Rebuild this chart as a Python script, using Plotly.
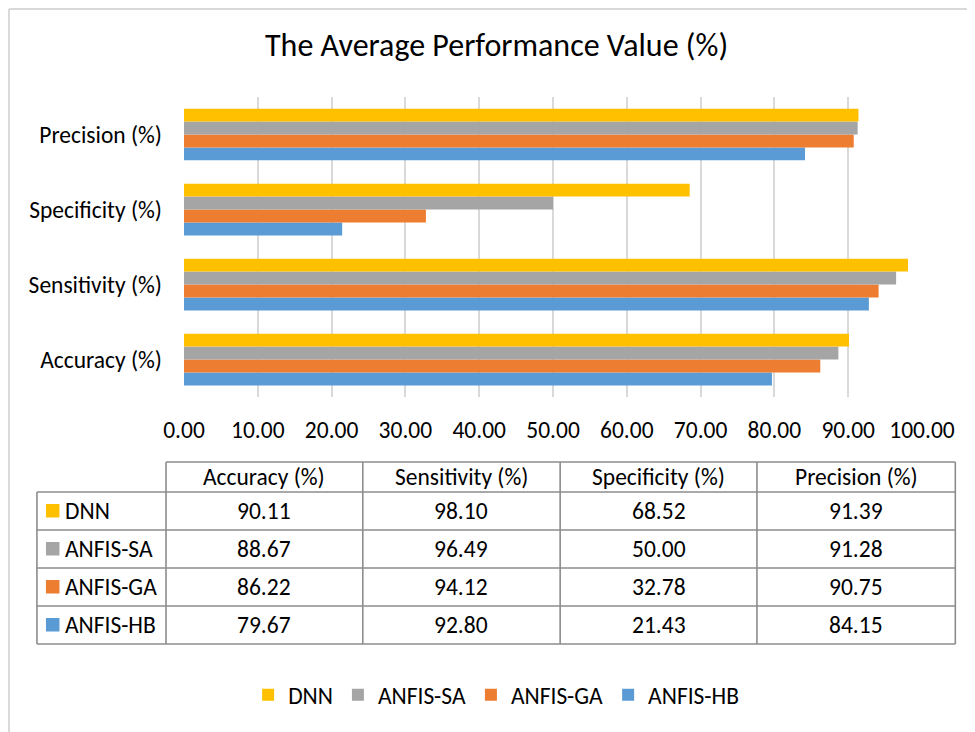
import plotly.graph_objects as go

# ---- data ----
metrics = ["Accuracy (%)", "Sensitivity (%)", "Specificity (%)", "Precision (%)"]
models = ["DNN", "ANFIS-SA", "ANFIS-GA", "ANFIS-HB"]
dnn = [90.11, 98.10, 68.52, 91.39]
anfis_sa = [88.67, 96.49, 50.00, 91.28]
anfis_ga = [86.22, 94.12, 32.78, 90.75]
anfis_hb = [79.67, 92.80, 21.43, 84.15]
x_ticks = [0, 10, 20, 30, 40, 50, 60, 70, 80, 90, 100]
title_text = "The Average Performance Value (%)"

series = {"DNN": dnn, "ANFIS-SA": anfis_sa, "ANFIS-GA": anfis_ga, "ANFIS-HB": anfis_hb}
colors = {"DNN": "#FFC000", "ANFIS-SA": "#A5A5A5", "ANFIS-GA": "#ED7D31", "ANFIS-HB": "#5B9BD5"}

FONT = "Carlito, Calibri, Lato, sans-serif"
OFF = 8  # page body margin
W, H = 967, 724
# plot area in page pixels: x 184..921.7, y 97..397
L = 184 - OFF
T = 97 - OFF
R = W - (921.7 - OFF)
B = H - (397 - OFF)
PW = W - L - R
PH = H - T - B


def px(x):
    """page pixel x -> paper"""
    return (x - OFF - L) / PW


def py(y):
    """page pixel y -> paper"""
    return (H - B - (y - OFF)) / PH


fig = go.Figure()
# add bottom-most first so DNN ends up on top of each group
for name in reversed(models):
    fig.add_trace(go.Bar(
        y=metrics, x=series[name], name=name, orientation="h",
        marker=dict(color=colors[name], line=dict(width=0)),
    ))

shapes = []
annotations = []

# outer chart frame (top & left visible)
shapes.append(dict(type="line", xref="paper", yref="paper", x0=px(9), x1=px(990), y0=py(9), y1=py(9),
                   line=dict(color="#d9d9d9", width=2)))
shapes.append(dict(type="line", xref="paper", yref="paper", x0=px(9), x1=px(9), y0=py(9), y1=py(740),
                   line=dict(color="#d9d9d9", width=2)))

# data table
col_edges = [166, 362.7, 560, 756.7, 955]
row_edges = [462, 492, 530, 568, 606, 644]
label_left = 37
tcol = "#8c8c8c"
tw = 1.6
shapes.append(dict(type="line", xref="paper", yref="paper", x0=px(col_edges[0]), x1=px(col_edges[-1]),
                   y0=py(row_edges[0]), y1=py(row_edges[0]), line=dict(color=tcol, width=tw)))
for ry in row_edges[1:]:
    shapes.append(dict(type="line", xref="paper", yref="paper", x0=px(label_left), x1=px(col_edges[-1]),
                       y0=py(ry), y1=py(ry), line=dict(color=tcol, width=tw)))
shapes.append(dict(type="line", xref="paper", yref="paper", x0=px(label_left), x1=px(label_left),
                   y0=py(row_edges[1]), y1=py(row_edges[-1]), line=dict(color=tcol, width=tw)))
for cx in col_edges:
    shapes.append(dict(type="line", xref="paper", yref="paper", x0=px(cx), x1=px(cx),
                       y0=py(row_edges[0]), y1=py(row_edges[-1]), line=dict(color=tcol, width=tw)))

TFS = 23.5
for j, m in enumerate(metrics):
    cxm = (col_edges[j] + col_edges[j + 1]) / 2
    cym = (row_edges[0] + row_edges[1]) / 2
    annotations.append(dict(xref="paper", yref="paper", x=px(cxm), y=py(cym), text=m, showarrow=False,
                            xanchor="center", yanchor="middle", font=dict(size=TFS, color="#000", family=FONT)))
for i, name in enumerate(models):
    cym = (row_edges[i + 1] + row_edges[i + 2]) / 2
    shapes.append(dict(type="rect", xref="paper", yref="paper", x0=px(46), x1=px(59.5),
                       y0=py(cym - 7), y1=py(cym + 6.5), fillcolor=colors[name], line=dict(width=0)))
    annotations.append(dict(xref="paper", yref="paper", x=px(63), y=py(cym), text=name, showarrow=False,
                            xanchor="left", yanchor="middle", font=dict(size=TFS, color="#000", family=FONT)))
    for j, v in enumerate(series[name]):
        cxm = (col_edges[j] + col_edges[j + 1]) / 2
        annotations.append(dict(xref="paper", yref="paper", x=px(cxm), y=py(cym), text=f"{v:.2f}",
                                showarrow=False, xanchor="center", yanchor="middle",
                                font=dict(size=TFS, color="#000", family=FONT)))

annotations.append(dict(xref="paper", yref="paper", x=px(496), y=py(45), text=title_text, showarrow=False,
                        xanchor="center", yanchor="middle", font=dict(size=32, color="#000", family=FONT)))

fig.update_layout(
    width=W, height=H,
    margin=dict(l=L, r=R, t=T, b=B, autoexpand=False),
    paper_bgcolor="white", plot_bgcolor="white",
    barmode="group", bargap=0.31, bargroupgap=0,
    font=dict(family=FONT, size=TFS, color="#000"),
    shapes=shapes, annotations=annotations,
    legend=dict(orientation="h", traceorder="reversed", x=px(496), xanchor="center",
                y=py(695), yanchor="middle", font=dict(size=TFS, family=FONT, color="#000"),
                bgcolor="rgba(0,0,0,0)"),
    xaxis=dict(range=[0, 100], tickvals=x_ticks, tickformat=".2f", showgrid=True, gridcolor="#d9d9d9",
               gridwidth=2, zeroline=False, showline=False, ticks="", ticklabelstandoff=16,
               tickfont=dict(size=TFS, family=FONT, color="#000"), fixedrange=True),
    yaxis=dict(categoryorder="array", categoryarray=metrics, showgrid=False, zeroline=False, showline=False,
               ticks="", ticklabelstandoff=21, tickfont=dict(size=TFS, family=FONT, color="#000"),
               fixedrange=True),
)

fig.write_html("out.html")
